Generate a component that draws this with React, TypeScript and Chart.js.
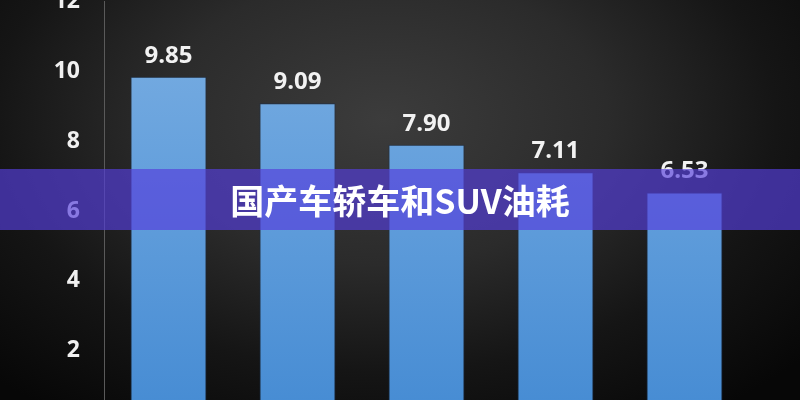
import { useEffect, useRef } from 'react';
import { Chart, registerables } from 'chart.js';

Chart.register(...registerables);

const categories = ['车型1', '车型2', '车型3', '车型4', '车型5'];
const consumption = [9.85, 9.09, 7.9, 7.11, 6.53];
const title = '国产车轿车和SUV油耗';

const valueLabels = {
    id: 'valueLabels',
    afterDatasetsDraw(chart: any) {
        const { ctx } = chart;
        const meta = chart.getDatasetMeta(0);
        ctx.save();
        ctx.fillStyle = '#f2f2f2';
        ctx.font = 'bold 24px "Open Sans", "DejaVu Sans", sans-serif';
        ctx.textAlign = 'center';
        ctx.textBaseline = 'bottom';
        meta.data.forEach((bar: any, i: number) => {
            ctx.fillText(consumption[i].toFixed(2), bar.x, bar.y - 9);
        });
        ctx.restore();
    }
};

const App = () => {
    const chartRef = useRef<HTMLCanvasElement | null>(null);
    const chartInstanceRef = useRef<Chart | null>(null);

    useEffect(() => {
        document.body.style.margin = '0';
        if (!chartRef.current) return;

        if (chartInstanceRef.current) {
            chartInstanceRef.current.destroy();
        }

        chartInstanceRef.current = new Chart(chartRef.current, {
            type: 'bar',
            data: {
                labels: categories,
                datasets: [{
                    data: consumption,
                    backgroundColor: (c: any) => {
                        const area = c.chart.chartArea;
                        if (!area) return '#5a9ad9';
                        const g = c.chart.ctx.createLinearGradient(0, area.top + 70, 0, area.bottom);
                        g.addColorStop(0, '#72a9e0');
                        g.addColorStop(1, '#458bd3');
                        return g;
                    },
                    borderColor: 'rgba(25,45,75,0.7)',
                    borderWidth: 1,
                    borderSkipped: 'bottom',
                    categoryPercentage: 1,
                    barPercentage: 0.59,
                }]
            },
            options: {
                responsive: false,
                animation: false,
                layout: { padding: { top: 19, right: 51, bottom: 0, left: 0 } },
                plugins: {
                    legend: { display: false },
                    tooltip: { enabled: false },
                },
                scales: {
                    x: { display: false },
                    y: {
                        min: 0,
                        max: 12,
                        ticks: {
                            stepSize: 2,
                            padding: 16,
                            color: '#f0f0f0',
                            font: { family: '"Open Sans", "DejaVu Sans", sans-serif', size: 23, weight: 'bold' },
                        },
                        grid: { display: false },
                        border: { display: true, color: '#5a5a5a', width: 1 },
                        afterFit: (scale: any) => { scale.width = 104; },
                    }
                }
            },
            plugins: [valueLabels]
        });

        return () => {
            if (chartInstanceRef.current) {
                chartInstanceRef.current.destroy();
                chartInstanceRef.current = null;
            }
        };
    }, []);

    return <div style={{
        position: 'relative', width: 800, height: 400, overflow: 'hidden',
        background: 'radial-gradient(ellipse 70% 90% at 48% 30%, #3c3c3c 0%, #2b2b2b 40%, #151515 70%, #070707 100%)'
    }}>
        <canvas ref={chartRef} width={800} height={478} style={{ position: 'absolute', left: 0, top: -28 }}></canvas>
        <div style={{
            position: 'absolute', left: 0, top: 169, width: 800, height: 61,
            background: 'rgba(85,63,219,0.67)', color: '#ffffff',
            font: 'bold 34px "Noto Sans CJK SC", sans-serif',
            display: 'flex', alignItems: 'center', justifyContent: 'center'
        }}>{title}</div>
    </div>
};

export default App;
